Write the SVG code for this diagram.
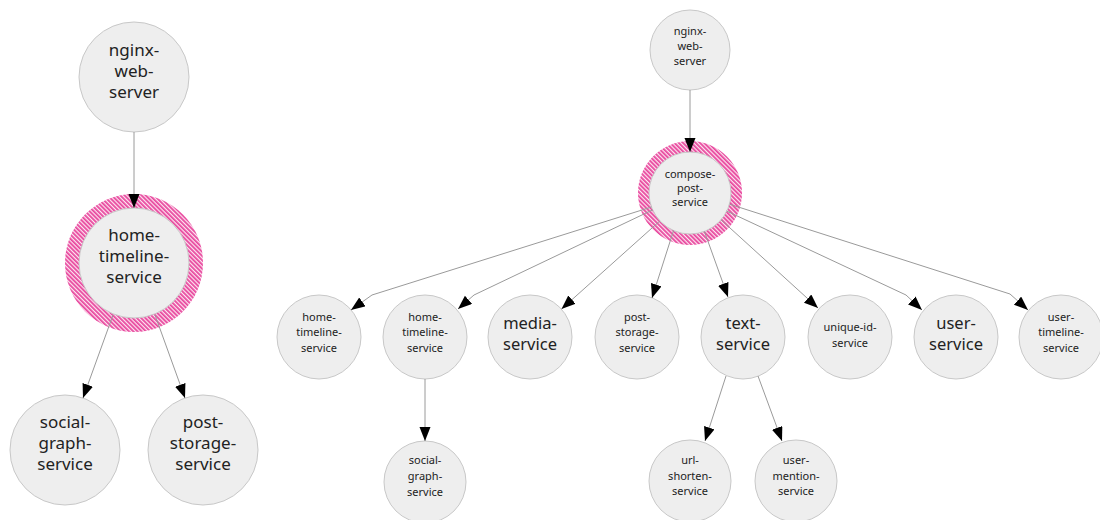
<svg xmlns="http://www.w3.org/2000/svg" width="1100" height="520" viewBox="0 0 1100 520">
<style>
.bg{fill:#ffffff}
.node{fill:#eeeeee;stroke:#c8c8c8;stroke-width:1}
.ring{fill:url(#hatch)}
.edge{fill:none;stroke:#9a9a9a;stroke-width:1;marker-end:url(#arrow)}
text{font-family:"Noto Sans","Open Sans","DejaVu Sans",sans-serif;fill:#222222;text-anchor:middle}
.lg{font-size:17px}
.md{font-size:16.5px}
.sm{font-size:11px}
</style>
<defs>
<pattern id="hatch" width="3" height="3" patternUnits="userSpaceOnUse" patternTransform="rotate(-45)">
<rect width="3" height="3" fill="#fde8f2"/>
<rect width="1.8" height="3" fill="#e8479e"/>
</pattern>
<marker id="arrow" markerUnits="userSpaceOnUse" markerWidth="16" markerHeight="12" refX="14" refY="5.5" orient="auto">
<path d="M0,0 L14,5.5 L0,11 Z" fill="#000000"/>
</marker>
</defs>
<rect class="bg" width="1100" height="520"/>

<!-- Left diagram -->
<g id="l-nginx-web-server">
<circle class="node" cx="134" cy="77" r="55"/>
<text class="lg" x="134" y="56">nginx-</text>
<text class="lg" x="134" y="77">web-</text>
<text class="lg" x="134" y="98">server</text>
</g>
<g id="l-home-timeline-service">
<circle class="ring" cx="134" cy="263" r="69"/>
<circle class="node" cx="134" cy="263" r="55"/>
<text class="lg" x="134" y="241">home-</text>
<text class="lg" x="134" y="262">timeline-</text>
<text class="lg" x="134" y="283">service</text>
</g>
<g id="l-social-graph-service">
<circle class="node" cx="65" cy="450" r="55"/>
<text class="lg" x="65" y="428">social-</text>
<text class="lg" x="65" y="449">graph-</text>
<text class="lg" x="65" y="470">service</text>
</g>
<g id="l-post-storage-service">
<circle class="node" cx="203" cy="450" r="55"/>
<text class="lg" x="203" y="428">post-</text>
<text class="lg" x="203" y="449">storage-</text>
<text class="lg" x="203" y="470">service</text>
</g>

<!-- Right diagram -->
<g id="r-nginx-web-server">
<circle class="node" cx="690" cy="50" r="40"/>
<text class="sm" x="690" y="35">nginx-</text>
<text class="sm" x="690" y="50">web-</text>
<text class="sm" x="690" y="65">server</text>
</g>
<g id="r-compose-post-service">
<circle class="ring" cx="690" cy="193" r="52"/>
<circle class="node" cx="690" cy="193" r="41"/>
<text class="sm" x="690" y="178">compose-</text>
<text class="sm" x="690" y="192">post-</text>
<text class="sm" x="690" y="206">service</text>
</g>
<g id="r-home-timeline-service-1">
<circle class="node" cx="319" cy="337" r="42"/>
<text class="sm" x="319" y="321">home-</text>
<text class="sm" x="319" y="336">timeline-</text>
<text class="sm" x="319" y="352">service</text>
</g>
<g id="r-home-timeline-service-2">
<circle class="node" cx="425" cy="337" r="42"/>
<text class="sm" x="425" y="321">home-</text>
<text class="sm" x="425" y="336">timeline-</text>
<text class="sm" x="425" y="352">service</text>
</g>
<g id="r-media-service">
<circle class="node" cx="530" cy="337" r="42"/>
<text class="md" x="530" y="329">media-</text>
<text class="md" x="530" y="350">service</text>
</g>
<g id="r-post-storage-service">
<circle class="node" cx="637" cy="337" r="42"/>
<text class="sm" x="637" y="321">post-</text>
<text class="sm" x="637" y="336">storage-</text>
<text class="sm" x="637" y="352">service</text>
</g>
<g id="r-text-service">
<circle class="node" cx="743" cy="337" r="42"/>
<text class="md" x="743" y="329">text-</text>
<text class="md" x="743" y="350">service</text>
</g>
<g id="r-unique-id-service">
<circle class="node" cx="850" cy="337" r="42"/>
<text class="sm" x="850" y="331">unique-id-</text>
<text class="sm" x="850" y="347">service</text>
</g>
<g id="r-user-service">
<circle class="node" cx="956" cy="337" r="42"/>
<text class="md" x="956" y="329">user-</text>
<text class="md" x="956" y="350">service</text>
</g>
<g id="r-user-timeline-service">
<circle class="node" cx="1061" cy="337" r="42"/>
<text class="sm" x="1061" y="321">user-</text>
<text class="sm" x="1061" y="336">timeline-</text>
<text class="sm" x="1061" y="352">service</text>
</g>
<g id="r-social-graph-service">
<circle class="node" cx="425" cy="482" r="41"/>
<text class="sm" x="425" y="464">social-</text>
<text class="sm" x="425" y="480">graph-</text>
<text class="sm" x="425" y="496">service</text>
</g>
<g id="r-url-shorten-service">
<circle class="node" cx="690" cy="481" r="41"/>
<text class="sm" x="690" y="464">url-</text>
<text class="sm" x="690" y="480">shorten-</text>
<text class="sm" x="690" y="495">service</text>
</g>
<g id="r-user-mention-service">
<circle class="node" cx="796" cy="481" r="41"/>
<text class="sm" x="796" y="464">user-</text>
<text class="sm" x="796" y="480">mention-</text>
<text class="sm" x="796" y="495">service</text>
</g>

<g id="connectors">
<path class="edge" d="M134,132 L134,208"/>
<path class="edge" d="M113,315 L83,398"/>
<path class="edge" d="M155,315 L185,398"/>
<path class="edge" d="M690,90 L690,152"/>
<path class="edge" d="M651.5,207 L372,295 L351,310"/>
<path class="edge" d="M652.8,209.8 L474,295 L458,309"/>
<path class="edge" d="M659.8,221 L561.5,309"/>
<path class="edge" d="M673.6,230.4 L652,298"/>
<path class="edge" d="M704.4,231.4 L728,297"/>
<path class="edge" d="M721,219.8 L818,308"/>
<path class="edge" d="M726.6,211 L906,295 L922,310"/>
<path class="edge" d="M729.6,204.2 L1010,294 L1028,310"/>
<path class="edge" d="M425,379 L425,441"/>
<path class="edge" d="M726,376 L705,441"/>
<path class="edge" d="M758,376 L782,441"/>
</g>
</svg>
